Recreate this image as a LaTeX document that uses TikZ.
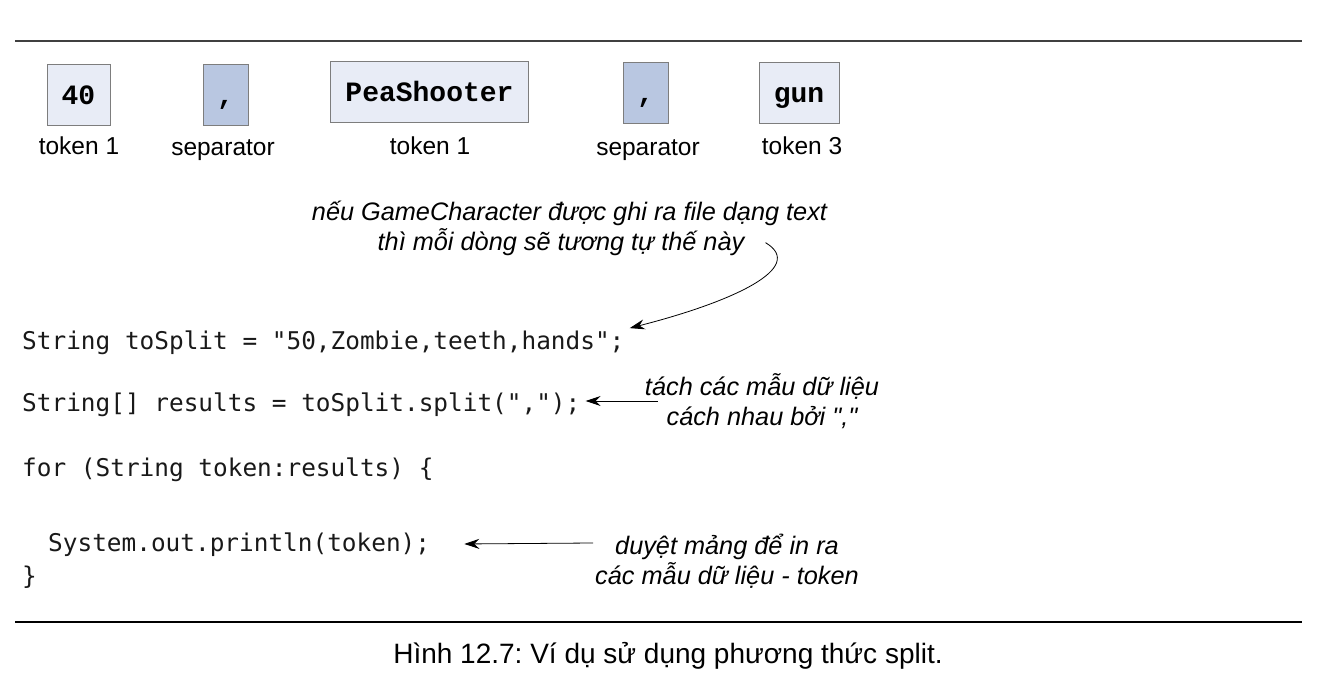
\documentclass[tikz,border=0pt]{standalone}
\usepackage{fontspec}
\setmainfont{Liberation Sans}
\setmonofont{DejaVu Sans Mono}
\newfontfamily\boxfont{Liberation Mono}
\newfontfamily\notefont{Liberation Sans}
\usetikzlibrary{arrows.meta}

\definecolor{tokfill}{RGB}{232,236,246}
\definecolor{sepfill}{RGB}{185,199,225}
\definecolor{boxline}{RGB}{125,125,125}

\begin{document}
\frenchspacing
\begin{tikzpicture}[x=1pt, y=-1pt,
	tok/.style={draw=boxline, fill=tokfill, minimum height=61pt, text height=24pt, text depth=4pt,
		font=\boxfont\bfseries\fontsize{28}{30}\selectfont},
	sep/.style={tok, fill=sepfill, minimum width=45pt},
	lbl/.style={anchor=base, font=\fontsize{24.5}{29}\selectfont},
	note/.style={font=\notefont\itshape\fontsize{25.3}{30}\selectfont, align=center, inner sep=2pt},
	code/.style={anchor=base west, inner xsep=5pt, inner ysep=3pt, text=black!90,
		font=\ttfamily\fontsize{24.4}{29}\selectfont},
	arr/.style={-{Stealth[length=15pt, width=10pt, inset=5pt]}, line width=0.8pt}]
	\useasboundingbox (0, 0) rectangle (1334, 684);

	\draw[line width=1.6pt, black!75] (15, 41) -- (1302, 41);
	\draw[line width=1.3pt] (15, 622) -- (1302, 622);

	% tokens of one line
	\node[tok, minimum width=63pt] (tk40) at (78.5, 94.5) {40};
	\node[sep] (sepa) at (225.5, 94.5) {,};
	\node[tok, minimum width=198pt] (tkpea) at (429.5, 92) {PeaShooter};
	\node[sep] (sepb) at (645.5, 92.5) {,};
	\node[tok, minimum width=80pt] (tkgun) at (799, 92.5) {gun};

	\node[lbl] (lbtka) at (79, 155) {token 1};
	\node[lbl] (lbsepa) at (223, 156) {separator};
	\node[lbl] (lbtkb) at (430, 155) {token 1};
	\node[lbl] (lbsepb) at (648, 156) {separator};
	\node[lbl] (lbtkc) at (802, 155) {token 3};

	% code
	\node[code] (cl1) at (17, 350) {String toSplit = "50,Zombie,teeth,hands";};
	\node[code] (cl2) at (17, 412) {String[] results = toSplit.split(",");};
	\node[code] (cl3) at (17, 477) {for (String token:results) \{};
	\node[code] (cl4) at (43, 551) {System.out.println(token);};
	\node[code] (cl5) at (17, 584) {\}};

	% notes
	\node[note, anchor=base] (na) at (569.5, 221) {nếu GameCharacter được ghi ra file dạng text};
	\node[note, anchor=base] (nb) at (561, 251) {thì mỗi dòng sẽ tương tự thế này};
	\node[note] (nsplit) at (762, 401) {tách các mẫu dữ liệu\\cách nhau bởi ","};
	\node[note] (nloop) at (727, 561) {duyệt mảng để in ra\\các mẫu dữ liệu - token};

	\draw[arr] ([xshift=19pt]nb.east) .. controls +(42, 25) and +(102, -26) .. (cl1.north east);
	\draw[arr, shorten <=-15pt] (nsplit.west) -- (cl2.east |- nsplit.west);
	\draw[arr, shorten >=29pt] ([yshift=18pt]nloop.west) -- (cl4.east);

	\node[anchor=base, font=\fontsize{28}{32}\selectfont] (capt) at (668, 663)
		{Hình 12.7: Ví dụ sử dụng phương thức split.};
\end{tikzpicture}
\end{document}
